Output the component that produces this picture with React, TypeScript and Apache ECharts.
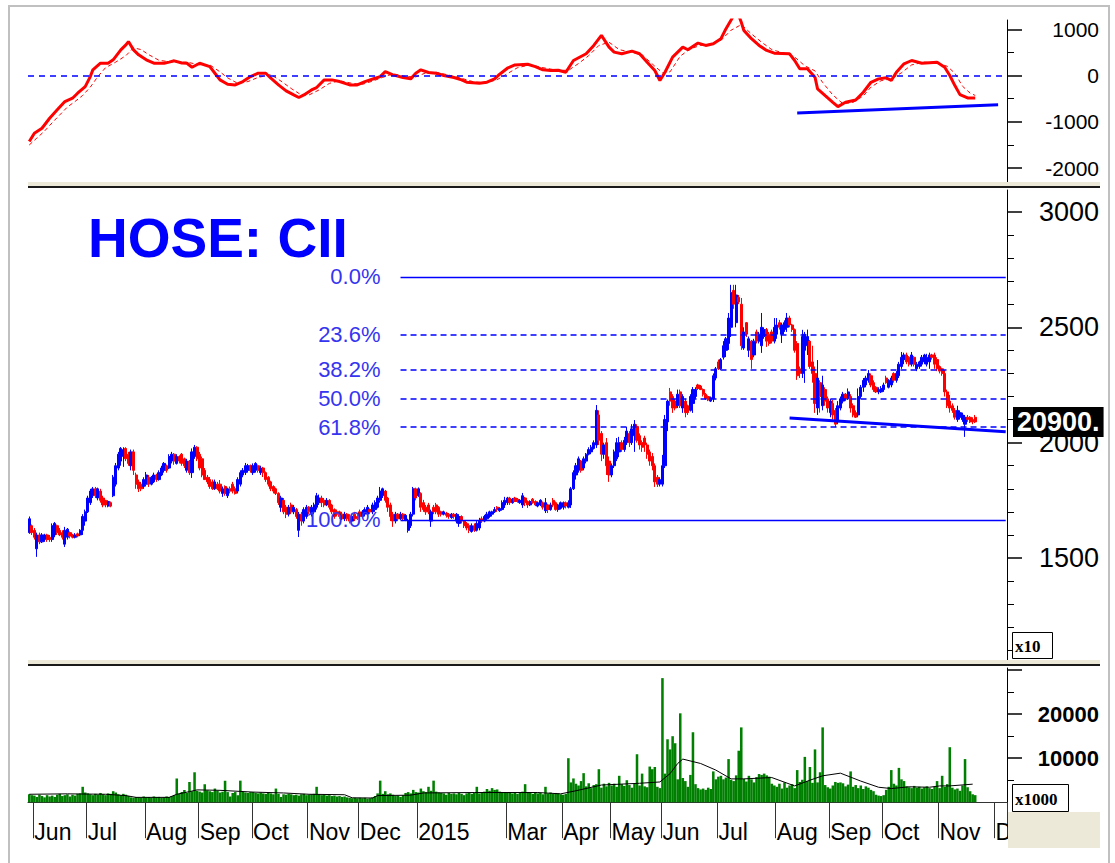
import React, { useEffect, useRef } from "react";
import * as echarts from "echarts";

type Bar = [number, number, number, number]; // open, close, low, high (price x10 VND)

// ---------- calendar (trading days per month on the axis) ----------
const monthLabels = ["May", "Jun", "Jul", "Aug", "Sep", "Oct", "Nov", "Dec", "2015", "Feb", "Mar", "Apr", "May", "Jun", "Jul", "Aug", "Sep", "Oct", "Nov", "Dec"];
const monthShown = [false, true, true, true, true, true, true, true, true, false, true, true, true, true, true, true, true, true, true, true];
const monthTradingDays = [2, 21, 23, 21, 21, 22, 20, 23, 20, 15, 22, 19, 20, 22, 23, 21, 21, 22, 22, 5];

// ---------- price bars by month ----------
const pricesMay14: Bar[] = [[1610, 1670, 1605, 1680], [1640, 1610, 1600, 1645]];
const pricesJun14: Bar[] = [
  [1620, 1590, 1580, 1630], [1540, 1600, 1505, 1610], [1600, 1570, 1560, 1610], [1570, 1600, 1565, 1608], [1580, 1600, 1570, 1605],
  [1600, 1580, 1570, 1605], [1590, 1580, 1570, 1600], [1580, 1640, 1570, 1650], [1600, 1650, 1590, 1656], [1640, 1610, 1600, 1645],
  [1620, 1600, 1595, 1630], [1610, 1590, 1580, 1620], [1560, 1620, 1548, 1635], [1590, 1625, 1580, 1630], [1610, 1595, 1585, 1615],
  [1600, 1590, 1585, 1605], [1590, 1600, 1585, 1608], [1605, 1595, 1590, 1610], [1600, 1620, 1595, 1625], [1620, 1680, 1600, 1690],
  [1660, 1700, 1640, 1710],
];
const pricesJul14: Bar[] = [
  [1700, 1760, 1695, 1770], [1740, 1790, 1730, 1800], [1770, 1800, 1760, 1808], [1800, 1770, 1760, 1808], [1760, 1800, 1750, 1805],
  [1790, 1750, 1740, 1800], [1760, 1730, 1720, 1770], [1750, 1730, 1720, 1752], [1725, 1745, 1720, 1750], [1740, 1725, 1720, 1745],
  [1770, 1850, 1764, 1860], [1820, 1900, 1810, 1912], [1890, 1950, 1880, 1960], [1920, 1975, 1900, 1981], [1940, 1970, 1895, 1980],
  [1975, 1930, 1920, 1980], [1950, 1910, 1900, 1960], [1900, 1960, 1880, 1970], [1960, 1880, 1860, 1970], [1860, 1820, 1800, 1870],
  [1830, 1800, 1786, 1840], [1820, 1800, 1790, 1830], [1810, 1840, 1800, 1850],
];
const pricesAug14: Bar[] = [
  [1820, 1860, 1810, 1873], [1850, 1820, 1808, 1860], [1820, 1850, 1815, 1855], [1830, 1860, 1825, 1870], [1860, 1840, 1830, 1865],
  [1840, 1870, 1835, 1880], [1860, 1890, 1855, 1900], [1880, 1910, 1870, 1916], [1900, 1880, 1870, 1905], [1890, 1940, 1885, 1950],
  [1920, 1950, 1910, 1960], [1950, 1920, 1904, 1955], [1910, 1940, 1905, 1950], [1940, 1920, 1910, 1945], [1950, 1910, 1900, 1955],
  [1930, 1900, 1890, 1935], [1880, 1920, 1870, 1930], [1920, 1870, 1860, 1925], [1870, 1960, 1847, 1975], [1940, 1980, 1930, 1990],
  [1980, 1930, 1920, 1985],
];
const pricesSep14: Bar[] = [
  [1950, 1890, 1880, 1960], [1930, 1860, 1850, 1940], [1880, 1840, 1838, 1890], [1850, 1830, 1820, 1860], [1840, 1810, 1800, 1851],
  [1830, 1800, 1795, 1840], [1800, 1830, 1795, 1840], [1820, 1800, 1795, 1830], [1820, 1790, 1780, 1838], [1780, 1800, 1765, 1810],
  [1810, 1780, 1770, 1815], [1770, 1800, 1760, 1805], [1800, 1790, 1780, 1810], [1820, 1790, 1780, 1830], [1800, 1780, 1775, 1810],
  [1790, 1840, 1780, 1850], [1820, 1870, 1810, 1880], [1860, 1880, 1850, 1890], [1870, 1900, 1860, 1912], [1880, 1900, 1870, 1908],
  [1900, 1880, 1870, 1905],
];
const pricesOct14: Bar[] = [
  [1870, 1900, 1860, 1910], [1880, 1910, 1870, 1915], [1900, 1880, 1870, 1905], [1870, 1890, 1860, 1900], [1890, 1870, 1851, 1895],
  [1870, 1840, 1830, 1875], [1850, 1820, 1810, 1855], [1830, 1800, 1790, 1835], [1810, 1790, 1780, 1815], [1800, 1780, 1773, 1805],
  [1780, 1740, 1730, 1785], [1720, 1760, 1700, 1770], [1750, 1700, 1690, 1760], [1720, 1690, 1673, 1730], [1690, 1720, 1680, 1730],
  [1730, 1700, 1690, 1740], [1700, 1720, 1690, 1730], [1710, 1680, 1670, 1717], [1620, 1690, 1591, 1700], [1690, 1660, 1640, 1700],
  [1660, 1710, 1650, 1720], [1680, 1720, 1670, 1730],
];
const pricesNov14: Bar[] = [
  [1720, 1700, 1690, 1725], [1690, 1720, 1680, 1730], [1700, 1730, 1690, 1740], [1720, 1770, 1710, 1782], [1740, 1760, 1730, 1775],
  [1760, 1740, 1721, 1770], [1750, 1730, 1720, 1760], [1730, 1750, 1725, 1760], [1750, 1720, 1710, 1755], [1730, 1700, 1690, 1735],
  [1710, 1680, 1670, 1715], [1700, 1690, 1680, 1710], [1700, 1680, 1670, 1705], [1690, 1670, 1665, 1700], [1670, 1690, 1660, 1700],
  [1690, 1670, 1660, 1695], [1680, 1660, 1650, 1690], [1660, 1680, 1655, 1690], [1690, 1670, 1660, 1700], [1680, 1670, 1665, 1690],
];
const pricesDec14: Bar[] = [
  [1700, 1680, 1670, 1710], [1680, 1700, 1675, 1708], [1690, 1710, 1680, 1720], [1690, 1720, 1685, 1730], [1710, 1700, 1690, 1715],
  [1700, 1730, 1690, 1740], [1710, 1740, 1700, 1750], [1720, 1760, 1715, 1770], [1750, 1790, 1740, 1808], [1770, 1800, 1760, 1805],
  [1790, 1750, 1740, 1795], [1760, 1720, 1700, 1765], [1730, 1680, 1660, 1740], [1690, 1660, 1635, 1700], [1660, 1690, 1650, 1700],
  [1690, 1670, 1660, 1695], [1670, 1690, 1665, 1700], [1690, 1670, 1660, 1695], [1665, 1685, 1660, 1690], [1620, 1660, 1610, 1670],
  [1640, 1690, 1630, 1700], [1690, 1800, 1680, 1808], [1800, 1760, 1750, 1805],
];
const pricesJan15: Bar[] = [
  [1770, 1800, 1765, 1806], [1780, 1720, 1700, 1785], [1740, 1710, 1700, 1752], [1720, 1700, 1687, 1730], [1730, 1700, 1690, 1739],
  [1660, 1700, 1635, 1710], [1720, 1700, 1690, 1730], [1730, 1700, 1690, 1739], [1720, 1690, 1678, 1725], [1700, 1690, 1680, 1705],
  [1690, 1700, 1685, 1705], [1695, 1685, 1675, 1700], [1690, 1680, 1670, 1695], [1675, 1690, 1670, 1695], [1690, 1680, 1670, 1695],
  [1660, 1690, 1650, 1695], [1650, 1680, 1635, 1690], [1680, 1660, 1650, 1685], [1660, 1640, 1630, 1665], [1650, 1630, 1620, 1656],
];
const pricesFeb15: Bar[] = [
  [1640, 1620, 1608, 1650], [1615, 1640, 1610, 1650], [1640, 1620, 1613, 1650], [1620, 1650, 1615, 1660], [1630, 1660, 1620, 1674],
  [1670, 1660, 1652, 1680], [1660, 1680, 1655, 1687], [1670, 1690, 1665, 1700], [1680, 1700, 1674, 1705], [1690, 1700, 1680, 1705],
  [1700, 1710, 1695, 1721], [1720, 1710, 1700, 1725], [1705, 1715, 1700, 1720], [1710, 1740, 1705, 1750], [1730, 1750, 1717, 1765],
];
const pricesMar15: Bar[] = [
  [1740, 1760, 1730, 1765], [1760, 1740, 1730, 1765], [1740, 1755, 1735, 1760], [1760, 1745, 1743, 1765], [1755, 1745, 1740, 1760],
  [1740, 1750, 1735, 1755], [1730, 1770, 1717, 1782], [1760, 1740, 1725, 1765], [1745, 1730, 1717, 1750], [1730, 1745, 1725, 1750],
  [1755, 1740, 1735, 1760], [1745, 1730, 1725, 1750], [1725, 1740, 1720, 1745], [1730, 1750, 1725, 1755], [1740, 1720, 1710, 1745],
  [1705, 1740, 1695, 1760], [1730, 1710, 1695, 1735], [1710, 1730, 1705, 1740], [1750, 1730, 1720, 1760], [1740, 1710, 1705, 1745],
  [1710, 1730, 1700, 1735], [1715, 1740, 1710, 1745],
];
const pricesApr15: Bar[] = [
  [1720, 1740, 1710, 1745], [1740, 1725, 1715, 1745], [1720, 1740, 1715, 1750], [1730, 1800, 1717, 1808], [1800, 1870, 1795, 1880],
  [1860, 1900, 1840, 1912], [1880, 1930, 1870, 1940], [1920, 1880, 1870, 1925], [1890, 1930, 1880, 1940], [1920, 1950, 1910, 1955],
  [1950, 1970, 1945, 1980], [1960, 1980, 1950, 1990], [1975, 2000, 1970, 2010], [1990, 2140, 1977, 2163], [2120, 2010, 1990, 2140],
  [2040, 1950, 1920, 2050], [1950, 1990, 1930, 2000], [2000, 1900, 1860, 2020], [1920, 1860, 1830, 1940],
];
const pricesMay15: Bar[] = [
  [1860, 1900, 1850, 1910], [1900, 1960, 1890, 1970], [1930, 2000, 1920, 2020], [1960, 2000, 1937, 2025], [2000, 1970, 1960, 2010],
  [1970, 2010, 1960, 2025], [2000, 2050, 1990, 2068], [2040, 2000, 1981, 2050], [2000, 2060, 1990, 2080], [2030, 2080, 1960, 2098],
  [2070, 2010, 2000, 2080], [2030, 1990, 1970, 2040], [2000, 1980, 1960, 2010], [2020, 1990, 1960, 2030], [1990, 1950, 1930, 2000],
  [1960, 1920, 1900, 1970], [1940, 1900, 1880, 1955], [1900, 1830, 1808, 1910], [1850, 1820, 1808, 1860], [1820, 1840, 1810, 1850],
];
const pricesJun15: Bar[] = [
  [1820, 1900, 1810, 1947], [1900, 2100, 1890, 2120], [2090, 2180, 2050, 2187], [2220, 2180, 2160, 2237], [2200, 2150, 2129, 2210],
  [2180, 2150, 2140, 2190], [2160, 2210, 2150, 2230], [2220, 2160, 2150, 2230], [2150, 2200, 2129, 2210], [2180, 2130, 2110, 2190],
  [2160, 2130, 2120, 2165], [2140, 2200, 2135, 2210], [2170, 2230, 2129, 2241], [2200, 2230, 2190, 2240], [2250, 2235, 2228, 2255],
  [2245, 2230, 2228, 2250], [2230, 2210, 2200, 2235], [2210, 2190, 2185, 2215], [2200, 2185, 2180, 2205], [2180, 2195, 2176, 2200],
  [2190, 2290, 2176, 2300], [2280, 2320, 2270, 2328],
];
const pricesJul15: Bar[] = [
  [2350, 2320, 2315, 2360], [2320, 2360, 2315, 2367], [2370, 2420, 2360, 2440], [2400, 2450, 2371, 2458], [2430, 2540, 2402, 2562],
  [2500, 2650, 2458, 2684], [2660, 2600, 2580, 2684], [2520, 2640, 2500, 2684], [2630, 2610, 2600, 2640], [2600, 2420, 2402, 2627],
  [2410, 2480, 2402, 2500], [2520, 2470, 2458, 2523], [2400, 2450, 2371, 2460], [2440, 2360, 2320, 2445], [2380, 2440, 2370, 2450],
  [2480, 2440, 2430, 2490], [2440, 2470, 2430, 2480], [2420, 2500, 2389, 2562], [2460, 2490, 2450, 2500], [2490, 2440, 2415, 2497],
  [2470, 2430, 2420, 2480], [2480, 2440, 2430, 2490], [2440, 2500, 2430, 2540],
];
const pricesAug15: Bar[] = [
  [2470, 2510, 2450, 2540], [2520, 2500, 2490, 2532], [2470, 2510, 2432, 2520], [2490, 2520, 2480, 2530], [2500, 2540, 2480, 2562],
  [2540, 2510, 2500, 2550], [2510, 2490, 2480, 2515], [2490, 2400, 2390, 2495], [2430, 2290, 2272, 2440], [2320, 2300, 2280, 2330],
  [2300, 2460, 2280, 2489], [2400, 2470, 2259, 2480], [2420, 2460, 2380, 2490], [2440, 2330, 2320, 2445], [2350, 2300, 2260, 2420],
  [2300, 2170, 2129, 2330], [2150, 2280, 2120, 2358], [2260, 2200, 2130, 2270], [2160, 2250, 2140, 2290], [2230, 2180, 2160, 2240],
  [2190, 2150, 2130, 2200],
];
const pricesSep15: Bar[] = [
  [2130, 2180, 2110, 2190], [2170, 2120, 2100, 2185], [2140, 2080, 2068, 2150], [2090, 2160, 2080, 2180], [2150, 2190, 2140, 2200],
  [2180, 2210, 2170, 2220], [2210, 2190, 2180, 2215], [2190, 2220, 2185, 2235], [2200, 2150, 2130, 2210], [2160, 2120, 2110, 2170],
  [2130, 2110, 2107, 2140], [2120, 2200, 2110, 2235], [2200, 2240, 2190, 2250], [2240, 2270, 2220, 2280], [2250, 2280, 2240, 2290],
  [2270, 2300, 2260, 2315], [2290, 2250, 2240, 2300], [2260, 2230, 2220, 2270], [2240, 2220, 2215, 2245], [2220, 2230, 2210, 2240],
  [2220, 2235, 2215, 2245],
];
const pricesOct15: Bar[] = [
  [2230, 2250, 2220, 2260], [2280, 2260, 2255, 2290], [2240, 2270, 2235, 2275], [2250, 2280, 2240, 2290], [2300, 2270, 2260, 2305],
  [2270, 2300, 2260, 2310], [2290, 2340, 2280, 2350], [2330, 2370, 2320, 2393], [2360, 2380, 2340, 2390], [2380, 2350, 2340, 2390],
  [2370, 2340, 2330, 2375], [2340, 2380, 2330, 2393], [2370, 2340, 2330, 2375], [2320, 2340, 2310, 2350], [2330, 2350, 2320, 2355],
  [2340, 2370, 2330, 2380], [2350, 2380, 2340, 2385], [2340, 2370, 2330, 2385], [2350, 2380, 2320, 2390], [2380, 2370, 2360, 2385],
  [2380, 2340, 2320, 2390], [2360, 2320, 2310, 2370],
];
const pricesNov15: Bar[] = [
  [2330, 2310, 2300, 2335], [2320, 2300, 2290, 2325], [2300, 2220, 2200, 2315], [2220, 2160, 2150, 2230], [2180, 2150, 2130, 2207],
  [2160, 2140, 2129, 2170], [2140, 2110, 2100, 2150], [2100, 2140, 2090, 2160], [2110, 2130, 2100, 2140], [2100, 2120, 2090, 2130],
  [2080, 2110, 2025, 2120], [2110, 2100, 2090, 2120], [2110, 2090, 2085, 2115], [2100, 2090, 2080, 2110], [2110, 2090, 2085, 2120],
];

// ---------- volume (x1000 shares) by month ----------
const volMay14 = [1800, 1600];
const volJun14 = [1500, 1200, 1700, 1400, 1100, 1600, 1300, 1500, 1200, 1700, 1900, 1400, 1600, 1800, 1300, 1700, 1500, 1900, 2000, 3500, 2200];
const volJul14 = [2000, 1800, 1600, 1900, 1700, 2100, 1800, 1600, 2000, 1900, 2500, 2200, 1800, 1600, 1900, 1700, 1400, 1100, 1000, 1200, 1100, 1000, 1300];
const volAug14 = [1100, 1200, 1000, 1300, 1100, 1200, 1000, 1100, 1300, 1200, 1400, 1600, 5400, 1900, 2300, 2800, 2100, 4600, 2500, 6800, 2600];
const volSep14 = [2400, 2200, 4100, 2700, 2500, 2300, 3100, 2600, 2200, 2400, 4900, 2300, 1300, 2100, 2300, 1600, 4900, 2400, 2200, 2100, 2300];
const volOct14 = [2300, 2100, 2000, 2200, 2000, 1900, 2100, 2000, 1800, 3100, 1900, 1200, 1800, 1700, 1900, 1800, 1600, 1700, 1500, 1800, 1900, 1600];
const volNov14 = [1700, 1800, 1900, 3500, 1800, 1600, 1700, 1500, 1600, 1400, 1500, 1300, 1400, 1200, 1300, 1100, 1000, 900, 1000, 900];
const volDec14 = [1000, 900, 1000, 800, 900, 1100, 1400, 2000, 4900, 1900, 2500, 1800, 2000, 1700, 1400, 1500, 1200, 1600, 2100, 2300, 2000, 2800, 2300];
const volJan15 = [2200, 3100, 2500, 2300, 3500, 2600, 4900, 2400, 2200, 2100, 2000, 1700, 2100, 1900, 2000, 1800, 2100, 1900, 1600, 2000];
const volFeb15 = [2100, 1900, 2200, 3500, 2000, 2200, 2400, 3000, 2600, 3200, 2800, 2900, 2400, 2200, 2300];
const volMar15 = [2100, 2300, 2000, 2200, 1900, 2100, 2400, 4100, 2300, 2100, 1900, 2200, 2000, 2100, 1800, 3500, 2000, 2200, 1900, 2100, 2000, 1800];
const volApr15 = [1700, 1900, 10000, 4500, 5400, 4200, 3800, 4800, 6600, 3600, 4300, 3200, 3900, 4100, 7500, 3300, 4200, 3600, 4400];
const volMay15 = [3800, 4200, 3500, 6000, 4100, 3700, 5000, 3900, 3300, 4200, 10900, 3800, 6500, 3600, 3400, 8100, 7500, 8000, 3500, 3200];
const volJun15 = [28200, 6500, 14300, 12000, 15000, 13400, 5200, 20200, 5500, 4800, 3500, 6200, 15900, 4100, 3200, 2900, 3100, 2800, 3300, 3000, 7000, 5200];
const volJul15 = [5800, 6000, 5200, 5600, 9800, 5100, 4800, 6100, 11700, 17000, 5300, 4700, 6000, 5200, 4500, 5700, 6400, 6200, 6500, 6100, 5800, 4200, 3800];
const volAug15 = [3500, 4200, 3100, 4500, 3300, 3800, 4100, 3200, 7300, 4600, 5100, 10300, 4800, 8000, 4400, 12000, 4500, 6800, 17000, 3900, 3400];
const volSep15 = [3100, 3800, 4600, 4400, 4500, 4300, 3600, 4000, 7000, 3500, 3900, 3200, 3800, 3000, 3600, 3300, 2800, 2500, 1700, 1500, 1400];
const volOct15 = [1600, 2800, 3500, 7300, 4200, 3800, 7800, 5200, 4800, 3600, 3400, 3200, 3700, 3300, 3500, 3100, 3400, 3600, 3200, 3000, 3500, 4800];
const volNov15 = [3200, 6000, 3500, 4100, 12500, 3300, 2900, 3100, 2600, 3800, 9800, 3400, 2500, 1800, 1600];

// volume moving average: [bar index, value]
const volumeAverage: [number, number][] = [
  [0, 1800], [15, 1900], [30, 1800], [38, 1500], [42, 1100], [55, 1100], [58, 1800], [63, 2400], [66, 2800], [75, 2700],
  [88, 2300], [100, 2100], [110, 1800], [124, 1700], [127, 1000], [135, 950], [137, 1500], [150, 1600], [155, 2100], [175, 2200],
  [200, 2200], [209, 1900], [215, 2600], [225, 3900], [240, 4300], [248, 4600], [252, 6500], [255, 8800], [257, 9800], [264, 8800],
  [270, 7300], [276, 5300], [281, 5300], [292, 5600], [301, 3700], [307, 5000], [312, 6000], [319, 6600], [323, 5700], [327, 4800],
  [334, 3400], [339, 3100], [346, 3500], [354, 3400], [358, 3700], [362, 3700], [371, 4100],
];

// ---------- oscillator (top panel): [bar index, value] ----------
const oscillator: [number, number][] = [
  [0, -1426], [2, -1246], [5, -1138], [8, -922], [11, -741], [14, -562], [17, -490], [19, -382], [22, -238], [24, -22],
  [25, 123], [28, 266], [31, 266], [33, 339], [36, 555], [38, 663], [39, 734], [41, 555], [43, 447], [46, 339],
  [49, 266], [53, 266], [55, 290], [57, 318], [60, 270], [62, 266], [64, 180], [67, 266], [71, 194], [73, 50],
  [75, -94], [78, -187], [81, -202], [84, -130], [87, -22], [90, 50], [93, 50], [95, -58], [98, -202], [101, -331],
  [104, -418], [106, -475], [108, -418], [111, -310], [113, -259], [116, -94], [119, -94], [122, -130], [126, -202], [129, -202],
  [132, -130], [136, -58], [138, -22], [140, 86], [143, 14], [147, -43], [150, -72], [152, 50], [154, 123], [157, 65],
  [160, 50], [163, 0], [167, -43], [170, -94], [172, -144], [177, -166], [180, -144], [183, -72], [185, 29], [188, 158],
  [191, 230], [196, 245], [199, 194], [202, 123], [205, 108], [208, 115], [211, 72], [214, 325], [219, 470], [222, 651],
  [225, 868], [228, 614], [230, 506], [233, 470], [237, 527], [240, 470], [243, 289], [246, 108], [248, -108], [250, 72],
  [253, 397], [257, 614], [259, 557], [263, 701], [266, 651], [269, 687], [272, 796], [274, 1013], [276, 1200], [277, 1300],
  [279, 1300], [280, 1150], [281, 976], [284, 796], [287, 651], [290, 542], [293, 484], [299, 470], [301, 325], [303, 145],
  [306, 145], [309, -36], [310, -289], [313, -434], [316, -578], [318, -672], [321, -578], [325, -528], [328, -361], [331, -145],
  [334, -72], [337, -50], [339, -108], [341, 72], [344, 253], [347, 325], [351, 267], [357, 289], [360, 180], [362, 0],
  [364, -217], [366, -412], [369, -484], [372, -484],
];
const oscillatorSignal: [number, number][] = [
  [0, -1500], [3, -1350], [6, -1200], [9, -1020], [12, -850], [15, -680], [18, -560], [21, -430], [24, -250], [27, -20],
  [30, 170], [34, 290], [38, 430], [41, 600], [44, 560], [47, 450], [51, 330], [56, 290], [62, 290], [67, 230],
  [71, 230], [75, 80], [78, -50], [82, -170], [86, -130], [90, -40], [95, 20], [99, -120], [103, -280], [107, -420],
  [110, -420], [114, -310], [118, -170], [122, -110], [127, -170], [131, -190], [135, -120], [139, -40], [143, 40], [148, -20],
  [152, -30], [156, 60], [160, 70], [165, 10], [170, -60], [175, -140], [180, -150], [184, -90], [188, 40], [192, 170],
  [197, 230], [202, 170], [207, 120], [212, 110], [216, 260], [220, 430], [224, 650], [228, 720], [232, 560], [237, 500],
  [241, 450], [245, 250], [249, 60], [252, 80], [256, 420], [260, 580], [264, 650], [268, 680], [272, 760], [276, 980],
  [280, 1100], [284, 900], [288, 720], [292, 560], [297, 480], [301, 400], [305, 210], [309, 100], [312, -150], [316, -420],
  [320, -610], [324, -580], [328, -440], [331, -250], [335, -110], [339, -70], [343, 60], [347, 230], [352, 290], [357, 270],
  [361, 200], [364, 50], [367, -230], [370, -380], [372, -430],
];

// ---------- drawn studies ----------
const fibHigh = 2718;
const fibLow = 1665;
const fibRatios = [0, 0.236, 0.382, 0.5, 0.618, 1];
const fibStartIndex = 146;
const fibEndIndex = 384;
const priceSupport: [number, number][] = [[299, 2107], [384, 2047]];
const oscillatorSupport: [number, number][] = [[302, -810], [381, -630]];

// ---------- axis ticks ----------
const oscMajorTicks = [-2000, -1000, 0, 1000];
const oscMinorTicks = [-1500, -500, 500];
const priceMajorTicks = [1500, 2000, 2500, 3000];
const priceMinorTicks = [1100, 1200, 1300, 1400, 1600, 1700, 1800, 1900, 2100, 2200, 2300, 2400, 2600, 2700, 2800, 2900];
const volMajorTicks = [10000, 20000, 30000];
const volLabelTicks = [10000, 20000];
const volMinorTicks = [5000, 15000, 25000];

const FONT = "'Liberation Sans', Arial, Helvetica, sans-serif";

function buildOption() {
  const candles: Bar[] = [
    pricesMay14, pricesJun14, pricesJul14, pricesAug14, pricesSep14, pricesOct14, pricesNov14, pricesDec14,
    pricesJan15, pricesFeb15, pricesMar15, pricesApr15, pricesMay15, pricesJun15, pricesJul15, pricesAug15,
    pricesSep15, pricesOct15, pricesNov15,
  ].flat();
  const volumes: number[] = [
    volMay14, volJun14, volJul14, volAug14, volSep14, volOct14, volNov14, volDec14,
    volJan15, volFeb15, volMar15, volApr15, volMay15, volJun15, volJul15, volAug15,
    volSep15, volOct15, volNov15,
  ].flat();

  const categories: string[] = [];
  const monthStart = new Set<number>();
  monthTradingDays.forEach((n, m) => {
    if (monthShown[m]) monthStart.add(categories.length);
    for (let d = 0; d < n; d++) categories.push(`${monthLabels[m]}|${m}|${d}`);
  });

  const lastClose = candles[candles.length - 1][1];

  const baseY = (grid: number, min: number, max: number) => ({
    type: "value" as const,
    gridIndex: grid,
    position: "right" as const,
    min,
    max,
    splitLine: { show: false },
  });
  const minorAxis = (grid: number, min: number, max: number, ticks: number[]) => ({
    ...baseY(grid, min, max),
    axisLine: { show: true, lineStyle: { color: "#000", width: 1 } },
    axisTick: { show: true, length: 7, customValues: ticks, lineStyle: { color: "#000", width: 1 } },
    axisLabel: { show: false },
  });
  const majorAxis = (grid: number, min: number, max: number, ticks: number[], labels: number[], fontSize: number, bold: boolean) => ({
    ...baseY(grid, min, max),
    axisLine: { show: false },
    axisTick: { show: true, length: 15, customValues: ticks, lineStyle: { color: "#000", width: 1.5 } },
    axisLabel: {
      show: true,
      customValues: labels,
      formatter: (v: number) => String(v),
      align: "right",
      margin: 92,
      fontSize,
      fontWeight: bold ? "bold" : "normal",
      fontFamily: FONT,
      color: "#000",
    },
  });

  const fibMarks = fibRatios.map((r) => {
    const level = fibHigh - r * (fibHigh - fibLow);
    const solid = r === 0 || r === 1;
    return [
      {
        coord: [fibStartIndex, level],
        lineStyle: { color: "#0000ff", width: solid ? 1.3 : 1.6, type: solid ? "solid" : [6, 4] },
        label: {
          show: true,
          position: "start",
          distance: 20,
          formatter: `${(r * 100).toFixed(1)}%`,
          color: "#3535f0",
          fontSize: 22,
          fontFamily: FONT,
        },
      },
      { coord: [fibEndIndex, level] },
    ];
  });

  return {
    animation: false,
    backgroundColor: "#ffffff",
    grid: [
      { left: 28, right: 108, top: 20, height: 162 },
      { left: 28, right: 108, top: 190, height: 470 },
      { left: 28, right: 108, top: 668, height: 143 },
    ],
    xAxis: [
      { type: "category", gridIndex: 0, data: categories, show: false },
      { type: "category", gridIndex: 1, data: categories, show: false },
      {
        type: "category",
        gridIndex: 2,
        data: categories,
        position: "bottom",
        axisLine: { show: true, lineStyle: { color: "#333", width: 1 } },
        axisTick: {
          show: true,
          interval: (i: number) => monthStart.has(i),
          length: 36,
          lineStyle: { color: "#333", width: 1 },
        },
        axisLabel: {
          show: true,
          interval: (i: number) => monthStart.has(i),
          formatter: (v: string) => v.split("|")[0],
          align: "left",
          margin: 9,
          fontSize: 23,
          fontFamily: FONT,
          color: "#000",
        },
        splitLine: { show: false },
      },
    ],
    yAxis: [
      minorAxis(0, -2300, 1200, oscMinorTicks),
      majorAxis(0, -2300, 1200, oscMajorTicks, oscMajorTicks, 21, false),
      minorAxis(1, 1058, 3095, priceMinorTicks),
      majorAxis(1, 1058, 3095, priceMajorTicks, priceMajorTicks, 27, false),
      minorAxis(2, -2000, 30500, volMinorTicks),
      majorAxis(2, -2000, 30500, volMajorTicks, volLabelTicks, 22, true),
    ],
    series: [
      {
        name: "signal",
        type: "line",
        xAxisIndex: 0,
        yAxisIndex: 0,
        data: oscillatorSignal,
        symbol: "none",
        lineStyle: { color: "#ff0000", width: 1, type: [4, 3] },
        z: 2,
      },
      {
        name: "oscillator",
        type: "line",
        xAxisIndex: 0,
        yAxisIndex: 0,
        data: oscillator,
        symbol: "none",
        lineStyle: { color: "#ff0000", width: 3 },
        z: 3,
        markLine: {
          silent: true,
          symbol: ["none", "none"],
          label: { show: false },
          lineStyle: { color: "#0000ff", width: 1.6, type: [6, 5] },
          data: [{ yAxis: 0 }],
        },
      },
      {
        name: "oscSupport",
        type: "line",
        xAxisIndex: 0,
        yAxisIndex: 0,
        data: oscillatorSupport,
        symbol: "none",
        lineStyle: { color: "#0000ff", width: 3 },
        z: 4,
      },
      {
        name: "price",
        type: "candlestick",
        xAxisIndex: 1,
        yAxisIndex: 2,
        data: candles,
        barWidth: 2.6,
        itemStyle: {
          color: "#0000ff",
          color0: "#ff0000",
          borderColor: "#0000ff",
          borderColor0: "#ff0000",
          borderWidth: 1,
        },
        markLine: {
          silent: true,
          symbol: ["none", "none"],
          data: [
            ...fibMarks,
            {
              yAxis: lastClose,
              lineStyle: { color: "rgba(0,0,0,0)", width: 1, type: "solid" },
              label: {
                show: true,
                position: "end",
                distance: 6,
                formatter: `${lastClose * 10}.`,
                color: "#ffffff",
                backgroundColor: "#000000",
                fontSize: 27,
                fontWeight: "bold",
                fontFamily: FONT,
                padding: [2, 4, 1, 4],
              },
            },
          ],
        },
        z: 3,
      },
      {
        name: "support",
        type: "line",
        xAxisIndex: 1,
        yAxisIndex: 2,
        data: priceSupport,
        symbol: "none",
        lineStyle: { color: "#0000ff", width: 3 },
        z: 4,
      },
      {
        name: "volume",
        type: "bar",
        xAxisIndex: 2,
        yAxisIndex: 4,
        data: volumes,
        barWidth: "100%",
        itemStyle: { color: "#008000" },
        z: 2,
      },
      {
        name: "volumeAverage",
        type: "line",
        xAxisIndex: 2,
        yAxisIndex: 4,
        data: volumeAverage,
        symbol: "none",
        lineStyle: { color: "#000000", width: 1 },
        z: 3,
      },
    ],
    graphic: [
      {
        type: "rect",
        z: 100,
        silent: true,
        shape: { x: 9, y: 6, width: 1100, height: 860 },
        style: { fill: "none", stroke: "#c0c0c0", lineWidth: 2 },
      },
      { type: "rect", z: 100, silent: true, shape: { x: 28, y: 182, width: 1072, height: 4 }, style: { fill: "#ece9d8" } },
      { type: "rect", z: 100, silent: true, shape: { x: 28, y: 186, width: 1072, height: 2 }, style: { fill: "#1a1a1a" } },
      { type: "rect", z: 100, silent: true, shape: { x: 28, y: 660, width: 1072, height: 4 }, style: { fill: "#ece9d8" } },
      { type: "rect", z: 100, silent: true, shape: { x: 28, y: 664, width: 1072, height: 2 }, style: { fill: "#1a1a1a" } },
      { type: "rect", z: 100, silent: true, shape: { x: 1008, y: 812, width: 92, height: 36 }, style: { fill: "#ece9d8" } },
      {
        type: "rect",
        z: 100,
        silent: true,
        shape: { x: 1012.5, y: 632.5, width: 40, height: 26 },
        style: { fill: "#fff", stroke: "#000", lineWidth: 1 },
      },
      {
        type: "text",
        z: 101,
        silent: true,
        x: 1015,
        y: 646,
        style: { text: "x10", fill: "#000", font: "bold 17px 'Liberation Serif', 'Times New Roman', serif", verticalAlign: "middle" },
      },
      {
        type: "rect",
        z: 100,
        silent: true,
        shape: { x: 1012.5, y: 784.5, width: 56, height: 27 },
        style: { fill: "#fff", stroke: "#000", lineWidth: 1 },
      },
      {
        type: "text",
        z: 101,
        silent: true,
        x: 1015,
        y: 799,
        style: { text: "x1000", fill: "#000", font: "bold 17px 'Liberation Serif', 'Times New Roman', serif", verticalAlign: "middle" },
      },
      {
        type: "text",
        z: 101,
        silent: true,
        x: 88,
        y: 238,
        style: {
          text: "HOSE: CII",
          fill: "#0000ff",
          font: `bold 55px ${FONT}`,
          verticalAlign: "middle",
        },
      },
    ],
  };
}

export default function App() {
  const ref = useRef<HTMLDivElement>(null);
  useEffect(() => {
    if (!ref.current) return;
    const chart = echarts.init(ref.current, null, { renderer: "svg" });
    chart.setOption(buildOption() as any);
    return () => chart.dispose();
  }, []);
  return (
    <div
      ref={ref}
      style={{ position: "fixed", left: 0, top: 0, width: 1115, height: 863, background: "#ffffff" }}
    />
  );
}
